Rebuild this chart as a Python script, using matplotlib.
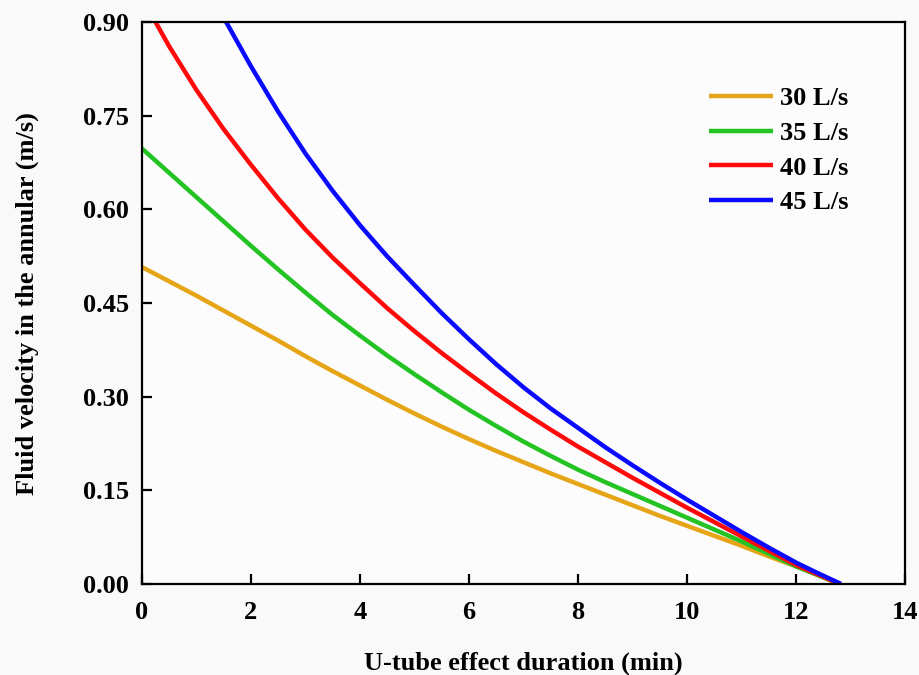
import matplotlib
matplotlib.use("Agg")
import matplotlib.pyplot as plt

# Data
t_30 = [0, 0.5, 1, 1.5, 2, 2.5, 3, 3.5, 4, 4.5, 5, 5.5, 6, 6.5, 7, 7.5, 8, 8.5, 9, 9.5, 10, 10.5, 11, 11.5, 12, 12.4, 12.78]
v_30 = [0.508, 0.485, 0.462, 0.438, 0.414, 0.390, 0.365, 0.341, 0.318, 0.295, 0.273, 0.252, 0.232, 0.213, 0.195,
        0.177, 0.160, 0.143, 0.126, 0.109, 0.093, 0.077, 0.061, 0.044, 0.028, 0.014, 0.0]

t_35 = [0, 0.5, 1, 1.5, 2, 2.5, 3, 3.5, 4, 4.5, 5, 5.5, 6, 6.5, 7, 7.5, 8, 8.5, 9, 9.5, 10, 10.5, 11, 11.5, 12, 12.4, 12.8]
v_35 = [0.698, 0.659, 0.620, 0.581, 0.542, 0.504, 0.467, 0.431, 0.398, 0.366, 0.336, 0.307, 0.279, 0.253, 0.228,
        0.205, 0.183, 0.163, 0.144, 0.125, 0.106, 0.087, 0.068, 0.048, 0.028, 0.014, 0.0]

t_40 = [0, 0.5, 1, 1.5, 2, 2.5, 3, 3.5, 4, 4.5, 5, 5.5, 6, 6.5, 7, 7.5, 8, 8.5, 9, 9.5, 10, 10.5, 11, 11.5, 12, 12.4, 12.8]
v_40 = [0.940, 0.862, 0.792, 0.729, 0.672, 0.618, 0.568, 0.523, 0.482, 0.442, 0.405, 0.370, 0.337, 0.305, 0.275,
        0.247, 0.220, 0.195, 0.170, 0.146, 0.122, 0.099, 0.076, 0.053, 0.030, 0.015, 0.0]

t_45 = [1, 1.5, 2, 2.5, 3, 3.5, 4, 4.5, 5, 5.5, 6, 6.5, 7, 7.5, 8, 8.5, 9, 9.5, 10, 10.5, 11, 11.5, 12, 12.4, 12.82]
v_45 = [0.990, 0.908, 0.830, 0.757, 0.690, 0.630, 0.575, 0.525, 0.479, 0.434, 0.392, 0.352, 0.315, 0.281, 0.250,
        0.219, 0.190, 0.162, 0.135, 0.109, 0.083, 0.058, 0.034, 0.017, 0.0]

labels = ["30 L/s", "35 L/s", "40 L/s", "45 L/s"]
colors = ["#E5A516", "#22C322", "#FF0A0A", "#0A0AFF"]

x_ticks = [0, 2, 4, 6, 8, 10, 12, 14]
y_ticks = [0.00, 0.15, 0.30, 0.45, 0.60, 0.75, 0.90]

plt.rcParams['font.family'] = ['Liberation Serif', 'DejaVu Serif']
plt.rcParams['font.weight'] = 'bold'

FS = 19

fig = plt.figure(figsize=(9.2, 6.75), dpi=100, facecolor="#f9f9f9")
ax = fig.add_axes([0.154, 0.135, 0.830, 0.832])
ax.set_facecolor("#fcfcfc")

series = [(t_30, v_30), (t_35, v_35), (t_40, v_40), (t_45, v_45)]
for (t, v), lab, c in zip(series, labels, colors):
    ax.plot(t, v, color=c, lw=3.2, label=lab, solid_capstyle='butt', solid_joinstyle='round')

ax.set_xlim(0, 14)
ax.set_ylim(0, 0.9)
ax.set_xticks(x_ticks)
ax.set_yticks(y_ticks)
ax.set_xticklabels([str(x) for x in x_ticks])
ax.set_yticklabels([f"{y:.2f}" for y in y_ticks])

for s in ax.spines.values():
    s.set_linewidth(1.6)
ax.tick_params(axis='both', direction='in', length=7, width=1.6, labelsize=FS,
               top=False, right=False)
ax.tick_params(axis='x', pad=12)
ax.tick_params(axis='y', pad=9)
for lbl in ax.get_xticklabels() + ax.get_yticklabels():
    lbl.set_fontweight('bold')

ax.set_xlabel("U-tube effect duration (min)", fontsize=FS, fontweight='bold', labelpad=20)
ax.set_ylabel("Fluid velocity in the annular (m/s)", fontsize=FS, fontweight='bold', labelpad=32)

leg = ax.legend(loc='upper right', bbox_to_anchor=(0.957, 0.927), frameon=False,
                handlelength=2.4, handletextpad=0.28, labelspacing=0.42,
                prop={'weight': 'bold', 'size': FS})

fig.savefig("out.png", dpi=100, facecolor=fig.get_facecolor())
